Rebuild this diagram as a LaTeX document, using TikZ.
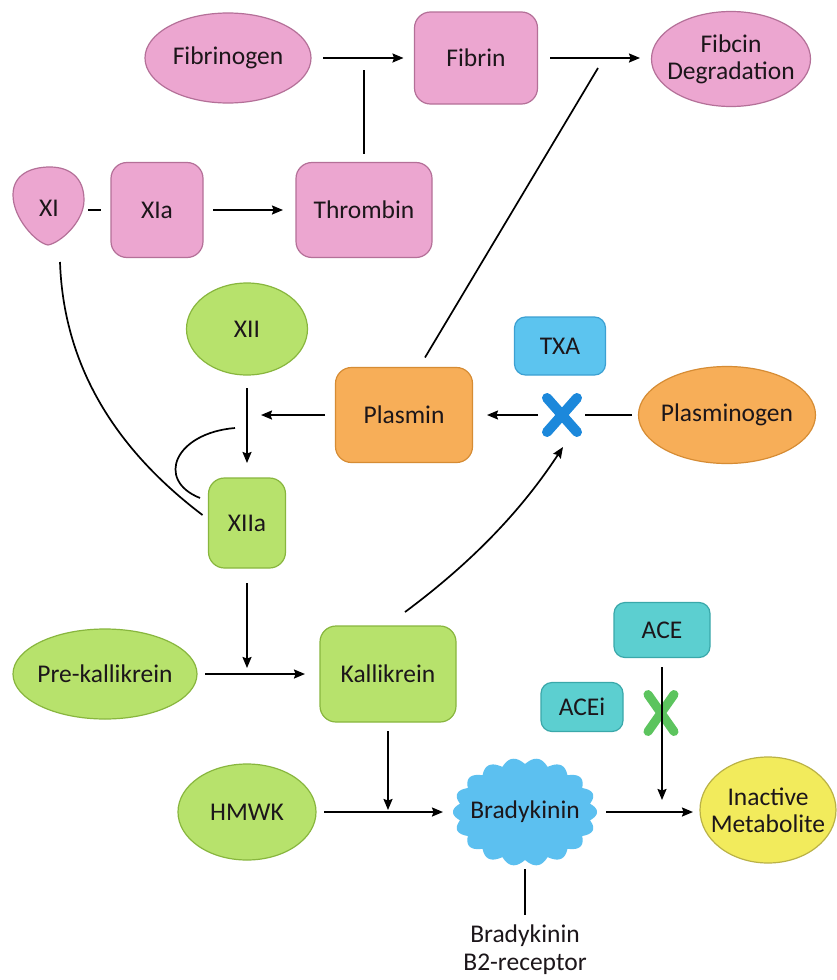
\documentclass[tikz,border=0pt]{standalone}
\usepackage{fontspec}
\setmainfont{Carlito}
\usetikzlibrary{arrows.meta,shapes.geometric,shapes.misc}

\definecolor{pinkf}{RGB}{236,166,208}
\definecolor{pinkd}{RGB}{180,112,152}
\definecolor{greenf}{RGB}{183,226,108}
\definecolor{greend}{RGB}{136,182,62}
\definecolor{orangef}{RGB}{247,174,88}
\definecolor{oranged}{RGB}{214,140,52}
\definecolor{txaf}{RGB}{92,196,239}
\definecolor{txad}{RGB}{60,160,210}
\definecolor{bluex}{RGB}{28,136,219}
\definecolor{tealf}{RGB}{92,207,208}
\definecolor{teald}{RGB}{58,168,170}
\definecolor{greenx}{RGB}{92,196,94}
\definecolor{yellowf}{RGB}{242,235,92}
\definecolor{yellowd}{RGB}{186,178,70}
\definecolor{bkf}{RGB}{92,192,240}
\definecolor{txt}{RGB}{28,22,26}

\begin{document}
\begin{tikzpicture}[x=1pt,y=-1pt,
  every node/.style={font=\fontsize{25.5}{27}\selectfont, text=txt, align=center, inner sep=0pt, outer sep=0pt},
  ell/.style={ellipse, line width=1.2pt, inner xsep=-12pt},
  box/.style={rectangle, rounded corners=16pt, line width=1.2pt},
  sbox/.style={rectangle, rounded corners=11pt, line width=1.2pt},
  pinkst/.style={draw=pinkd, fill=pinkf},
  greenst/.style={draw=greend, fill=greenf},
  orangest/.style={draw=oranged, fill=orangef},
  txast/.style={draw=txad, fill=txaf},
  tealst/.style={draw=teald, fill=tealf},
  yellowst/.style={draw=yellowd, fill=yellowf},
  xmark/.style={cross out, line width=#1, line cap=round},
  ln/.style={line width=1.7pt, draw=black},
  arr/.style={ln, -{Stealth[length=11pt,width=9pt,inset=1.5pt]}},
]
\fill[white] (0,0) rectangle (836,980);
\useasboundingbox (0,0) rectangle (836,980);

% ---- shapes drawn directly ----
\fill[pinkf, draw=pinkd, line width=1.2pt] (48,245) .. controls (36,243) and (13,218) .. (13,195)
  .. controls (13,175) and (30,167) .. (50,167) .. controls (70,167) and (84,178) .. (84,200)
  .. controls (84,222) and (60,243) .. (48,245) -- cycle;
\fill[bkf] plot[domain=0:360, samples=721, variable=\t]
  ({525+(66+6*abs(cos(9*\t)))*cos(\t)}, {812+(48+6*abs(cos(9*\t)))*sin(\t)}) -- cycle;

% ---- nodes ----
\node[ell, pinkst, minimum width=166pt, minimum height=90pt] (fibrinogen) at (228,58) {Fibrinogen};
\node[box, pinkst, minimum width=123pt, minimum height=92pt] (fibrin) at (476,58) {Fibrin};
\node[ell, pinkst, minimum width=159pt, minimum height=95pt] (fibcin) at (731,59) {Fibcin\\Degradation};
\node[minimum width=71pt, minimum height=84pt] (xi) at (49,208) {XI};
\node[box, pinkst, minimum width=92pt, minimum height=95pt] (xia) at (157,210) {XIa};
\node[box, pinkst, minimum width=136pt, minimum height=95pt] (thrombin) at (364,210) {Thrombin};

\node[ell, greenst, minimum width=121pt, minimum height=92pt] (xii) at (247,329) {XII};
\node[sbox, txast, minimum width=91pt, minimum height=58pt] (txa) at (560,346) {TXA};
\node[box, orangest, minimum width=137pt, minimum height=95pt] (plasmin) at (404,415) {Plasmin};
\node[xmark=10pt, draw=bluex, minimum width=30pt, minimum height=34pt] (bx) at (562,415) {};
\node[ell, orangest, minimum width=177pt, minimum height=97pt] (plasminogen) at (727,415) {Plasminogen};
\node[box, greenst, minimum width=77pt, minimum height=90pt] (xiia) at (247,523) {XIIa};

\node[ell, greenst, minimum width=184pt, minimum height=90pt] (prek) at (105,674) {Pre-kallikrein};
\node[box, greenst, minimum width=136pt, minimum height=96pt] (kallikrein) at (388,674) {Kallikrein};
\node[sbox, tealst, minimum width=96pt, minimum height=55pt] (ace) at (662,630) {ACE};
\node[sbox, tealst, minimum width=82pt, minimum height=49pt] (acei) at (582,707) {ACEi};
\node[xmark=9pt, draw=greenx, minimum width=26pt, minimum height=37pt] (gx) at (661,713) {};
\node[ell, greenst, minimum width=138pt, minimum height=96pt] (hmwk) at (247,812) {HMWK};
\node[minimum width=145pt, minimum height=107pt] (bk) at (525,812) {Bradykinin};
\node[ell, yellowst, minimum width=136pt, minimum height=106pt] (inact) at (768,810) {Inactive\\Metabolite};
\node[font=\fontsize{25.5}{28}\selectfont] (b2) at (525,950) {Bradykinin\\B2-receptor};

% ---- free ends ----
\coordinate (tj) at (364,70);
\coordinate (pf) at (598,68);
\coordinate (pj) at (261,415);
\coordinate (kj) at (247,668);
\coordinate (hj) at (388,810);
\coordinate (aj) at (662,800);
\coordinate (a1) at (235,428);
\coordinate (a2) at (200,498);

% ---- connectors ----
\draw[arr, shorten <=12pt, shorten >=11pt] (fibrinogen.east) -- (fibrin.west);
\draw[arr, shorten <=12.5pt, shorten >=11.5pt] (fibrin.east) -- (fibcin.west |- fibrin.east);
\draw[ln, shorten <=9pt] (thrombin.north) -- (tj);
\draw[ln, shorten <=3.5pt, shorten >=10pt] (xi.east |- xia.west) -- (xia.west);
\draw[arr, shorten <=10pt, shorten >=13pt] (xia.east) -- (thrombin.west);
\draw[ln] ([xshift=21pt,yshift=10pt]plasmin.north) -- (pf);
\draw[ln] ([xshift=11pt,yshift=-12pt]xi.south) .. controls (64,380) and (130,460) .. ([xshift=-6pt,yshift=8pt]xiia.west);
\draw[arr, shorten <=13pt, shorten >=15pt] (xii.south) -- (xiia.north);
\draw[arr, shorten <=10.5pt] (plasmin.west) -- (pj);
\draw[arr, shorten <=9pt, shorten >=14.5pt] (bx.west) -- (plasmin.east);
\draw[ln, shorten <=6.5pt, shorten >=8pt] (plasminogen.west) -- (bx.east);
\draw[ln] (a1) .. controls (175,433) and (155,480) .. (a2);
\draw[arr, shorten <=15pt] (xiia.south) -- (kj);
\draw[arr, shorten <=8pt, shorten >=15pt] (prek.east) -- (kallikrein.west);
\draw[arr] ([xshift=17pt,yshift=14pt]kallikrein.north) .. controls (475,560) and (523,508) .. ([xshift=1pt,yshift=-15pt]bx.south);
\draw[arr, shorten <=9pt] (kallikrein.south) -- (hj);
\draw[arr, shorten <=9.5pt] (ace.south) -- (aj);
\draw[arr, shorten <=8pt, shorten >=9.5pt] (hmwk.east) -- (bk.west);
\draw[arr, shorten <=8.5pt, shorten >=7pt] (bk.east) -- (inact.west |- bk.east);
\draw[ln, shorten <=3.5pt, shorten >=10.5pt] (bk.south) -- (b2.north);
\end{tikzpicture}
\end{document}
